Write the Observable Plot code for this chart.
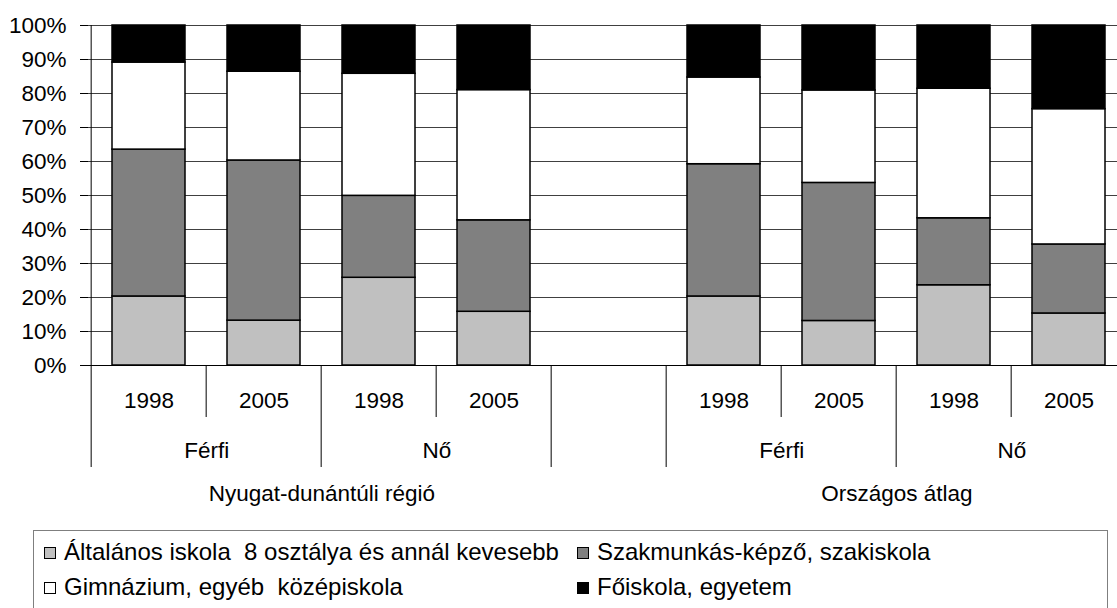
<!DOCTYPE html>
<html><head><meta charset="utf-8">
<script src="https://cdn.jsdelivr.net/npm/d3@7"></script>
<script src="https://cdn.jsdelivr.net/npm/@observablehq/plot@0.6"></script>
<style>
html,body{margin:0;padding:0;background:#fff;overflow:hidden;width:1117px;height:608px;position:relative;}
#chart svg{display:block;max-width:none !important;}
#legend{position:absolute;left:33px;top:530px;width:1075px;height:100px;border:1px solid #7f7f7f;box-sizing:border-box;font-family:"Liberation Sans",Arial,sans-serif;font-size:24px;color:#000;}
.lt{position:absolute;white-space:pre;line-height:24px;height:24px;}
.sw{position:absolute;width:10px;height:10px;border:1px solid #000;}
</style></head><body>
<div id="chart"></div>
<div id="legend"></div>
<script>
// ---- data ----
const regions = ["Nyugat-dunántúli régió", "Országos átlag"];
const genders = ["Férfi", "Nő"];
const years = ["1998", "2005"];
const categories = [
  "Általános iskola  8 osztálya és annál kevesebb",
  "Szakmunkás-képző, szakiskola",
  "Gimnázium, egyéb  középiskola",
  "Főiskola, egyetem"
];
const colors = ["#c0c0c0", "#808080", "#ffffff", "#000000"];
// one value per bar: region 1 (F 1998, F 2005, N 1998, N 2005), region 2 (same order)
const altalanos = [20.3, 13.2, 25.8, 15.8, 20.3, 13.1, 23.6, 15.3];
const szakmunkas = [43.2, 47.1, 24.1, 26.9, 38.9, 40.6, 19.7, 20.3];
const gimnazium = [25.6, 26.1, 35.9, 38.3, 25.5, 27.2, 38.1, 39.8];
const foiskola = [10.9, 13.6, 14.2, 19.0, 15.3, 19.1, 18.6, 24.6];
const yTicks = [0, 0.1, 0.2, 0.3, 0.4, 0.5, 0.6, 0.7, 0.8, 0.9, 1];

// ---- build ----
const series = [altalanos, szakmunkas, gimnazium, foiskola];
const barKeys = [];
regions.forEach((r) => genders.forEach((g) => years.forEach((y) => barKeys.push(`${r}|${g}|${y}`))));
const slotKeys = [...barKeys.slice(0, 4), "gap", ...barKeys.slice(4)];
const rows = [];
barKeys.forEach((k, i) => categories.forEach((c, j) => rows.push({slot: k, category: c, value: series[j][i]})));

const W = 1130, H = 530, ML = 88, MR = 1, MT = 25, MB = 165;
const step = (W - ML - MR) / slotKeys.length;
const frameH = H - MT - MB;

const longSeps = [slotKeys[2], slotKeys[4], slotKeys[5], slotKeys[7]];
const shortSeps = [slotKeys[1], slotKeys[3], slotKeys[6], slotKeys[8]];
const genderLabels = [];
regions.forEach((r) => genders.forEach((g) => genderLabels.push({key: `${r}|${g}|${years[0]}`, text: g})));
const regionLabels = regions.map((r) => ({key: `${r}|${genders[0]}|${years[1]}`, text: r}));

const font = '"Liberation Sans", Arial, sans-serif';
const fs = 22.5;

const plot = Plot.plot({
  width: W, height: H, marginLeft: ML, marginRight: MR, marginTop: MT, marginBottom: MB,
  style: {fontFamily: font, fontSize: fs + "px", color: "#000", background: "#fff", maxWidth: "none", overflow: "visible"},
  x: {domain: slotKeys, paddingInner: 0.365, paddingOuter: 0.1825, align: 0.5, axis: null},
  y: {domain: [0, 1]},
  color: {domain: categories, range: colors},
  marks: [
    Plot.gridY(yTicks, {stroke: "#404040", strokeOpacity: 1}),
    Plot.axisY(yTicks, {tickFormat: d3.format(".0%"), tickSize: 8, tickPadding: 14, fontSize: fs, label: null, stroke: "#000"}),
    Plot.barY(rows, Plot.stackY({offset: "normalize", order: categories, x: "slot", y: "value", z: "category", fill: "category", stroke: "#000", strokeWidth: 1.5})),
    Plot.ruleY([0], {stroke: "#000", strokeWidth: 1.2}),
    Plot.ruleX([slotKeys[0]], {dx: -step / 2, stroke: "#000", insetBottom: -102}),
    Plot.ruleX(longSeps, {dx: -step / 2, stroke: "#000", insetTop: frameH, insetBottom: -102}),
    Plot.ruleX(shortSeps, {dx: -step / 2, stroke: "#000", insetTop: frameH, insetBottom: -52}),
    Plot.text(barKeys, {x: (d) => d, y: 0, dy: 35, text: (d) => d.split("|")[2], fontSize: fs, fill: "#000"}),
    Plot.text(genderLabels, {x: "key", y: 0, dx: step / 2, dy: 85, text: "text", fontSize: fs, fill: "#000"}),
    Plot.text(regionLabels, {x: "key", y: 0, dx: step / 2, dy: 128, text: "text", fontSize: fs, fill: "#000"})
  ]
});
document.getElementById("chart").appendChild(plot);

// ---- legend ----
const legend = document.getElementById("legend");
const colX = [10, 543];
const rowY = [21, 56];
categories.forEach((c, i) => {
  const col = i % 2, row = Math.floor(i / 2);
  const sw = document.createElement("div");
  sw.className = "sw";
  sw.style.left = colX[col] + "px";
  sw.style.top = (rowY[row] - 5) + "px";
  sw.style.background = colors[i];
  legend.appendChild(sw);
  const t = document.createElement("div");
  t.className = "lt";
  t.textContent = c;
  t.style.left = (colX[col] + 20) + "px";
  t.style.top = (rowY[row] - 12) + "px";
  legend.appendChild(t);
});
</script>
</body></html>
